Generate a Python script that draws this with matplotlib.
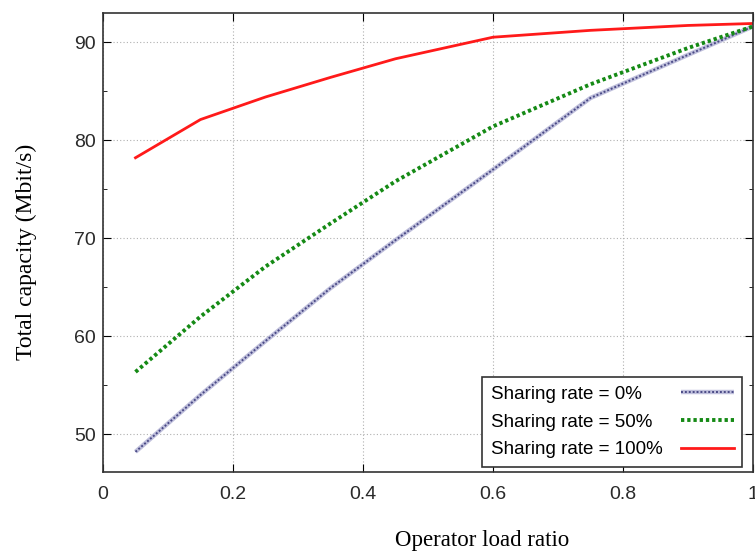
import numpy as np
import matplotlib.pyplot as plt

# データ
load_ratio = [0.05, 0.15, 0.25, 0.35, 0.45, 0.6, 0.75, 0.9, 1.0]
share_0 = [48.2, 54.0, 59.5, 64.9, 69.8, 77.0, 84.3, 88.7, 91.6]
share_50 = [56.35, 62.0, 67.1, 71.5, 75.8, 81.4, 85.7, 89.4, 91.6]
share_100 = [78.2, 82.1, 84.4, 86.4, 88.3, 90.5, 91.2, 91.7, 91.9]
labels = ["Sharing rate = 0%", "Sharing rate = 50%", "Sharing rate = 100%"]
x_ticks = [0, 0.2, 0.4, 0.6, 0.8, 1.0]
x_ticklabels = ["0", "0.2", "0.4", "0.6", "0.8", "1"]
y_ticks = [50, 60, 70, 80, 90]

fig = plt.figure(figsize=(7.55, 5.56), dpi=100)
ax = fig.add_axes([0.1364, 0.1516, 0.861, 0.8245])

# 0% は薄紫の太線に紺の細点線を重ねる
b1, = ax.plot(load_ratio, share_0, color="#c0c0dc", lw=3.2, solid_capstyle="butt")
b2, = ax.plot(load_ratio, share_0, color="#4a4a86", lw=1.4, dashes=(1, 1))
g, = ax.plot(load_ratio, share_50, color="#158a15", lw=2.8, dashes=(0.85, 0.75))
r, = ax.plot(load_ratio, share_100, color="#ff1a1a", lw=2)

ax.set_xlim(0, 1)
ax.set_ylim(46.17, 92.94)
ax.set_xticks(x_ticks)
ax.set_xticklabels(x_ticklabels)
ax.set_yticks(y_ticks)
ax.set_yticks([55, 65, 75, 85], minor=True)
ax.tick_params(direction="in", top=True, right=True, which="both",
               labelsize=14, length=6, labelcolor="#2a2a2a")
ax.tick_params(axis="x", pad=10)
ax.tick_params(axis="y", pad=5)
ax.tick_params(which="minor", length=3)
for lab in ax.get_xticklabels() + ax.get_yticklabels():
    lab.set_family("Liberation Sans")

ax.grid(True, which="major", color="#b0b0b0", linestyle=(0, (1, 2)), lw=0.8)
for s in ax.spines.values():
    s.set_color("#333333")
    s.set_linewidth(1.2)

ax.set_xlabel("Operator load ratio", family="Liberation Serif", fontsize=16.5)
ax.xaxis.set_label_coords(0.583, -0.127)
ax.set_ylabel("Total capacity (Mbit/s)", family="Liberation Serif", fontsize=17)
ax.yaxis.set_label_coords(-0.1015, 0.479)

leg = ax.legend([(b1, b2), g, r], labels, loc="lower right",
                bbox_to_anchor=(0.983, 0.011), borderaxespad=0, markerfirst=False,
                prop={"family": "Liberation Sans", "size": 13.5}, fancybox=False,
                framealpha=1, edgecolor="#333333", handlelength=2.8,
                borderpad=0.45, labelspacing=0.56)
leg.get_frame().set_linewidth(1.2)
# 文字は左寄せ、線は右寄せにする
col = leg._legend_handle_box.get_children()[0]
col.width = 243
for row in col.get_children():
    row.mode = "expand"

fig.savefig("out.png", dpi=100)
